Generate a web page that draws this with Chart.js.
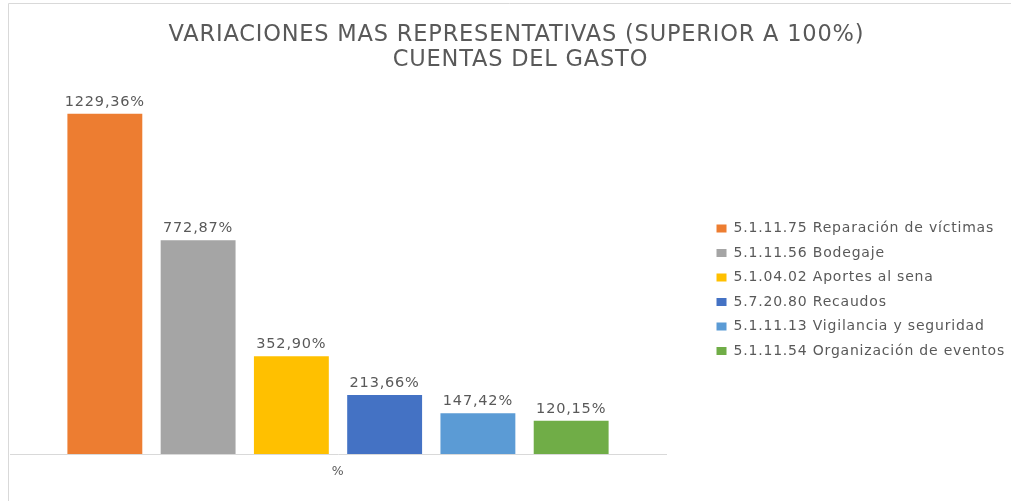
<!DOCTYPE html>
<html lang="es">
<head>
    <meta charset="UTF-8">
    <script src="https://cdn.jsdelivr.net/npm/chart.js"></script>
    <title>Variaciones</title>
    <style>
        body { margin: 0; background: #fff; }
        #chart { width: 1011px; height: 501px; }
    </style>
</head>
<body>
    <div id="chart">
        <canvas id="gastoChart" width="1011" height="501"></canvas>
    </div>
    <script>
        // datos
        const categorias = ['%']
        const cuentas = [
            '5.1.11.75 Reparación de víctimas',
            '5.1.11.56 Bodegaje',
            '5.1.04.02 Aportes al sena',
            '5.7.20.80 Recaudos',
            '5.1.11.13 Vigilancia y seguridad',
            '5.1.11.54 Organización de eventos'
        ]
        const variaciones = [1229.36, 772.87, 352.90, 213.66, 147.42, 120.15]
        const colores = ['#ED7D31', '#A5A5A5', '#FFC000', '#4472C4', '#5B9BD5', '#70AD47']

        Chart.defaults.font.family = "'DejaVu Sans', sans-serif"
        Chart.defaults.color = '#595959'

        // el texto del original es algo mas ancho
        const espaciado = {
            id: 'espaciado',
            beforeLayout(chart) { chart.ctx.letterSpacing = '0.8px' },
            beforeDraw(chart) { chart.ctx.letterSpacing = '0.8px' }
        }

        // etiquetas encima de las barras
        const etiquetas = {
            id: 'etiquetas',
            afterDatasetsDraw(chart) {
                const ctx = chart.ctx
                ctx.save()
                ctx.font = "14.5px 'DejaVu Sans', sans-serif"
                ctx.fillStyle = '#595959'
                ctx.textAlign = 'center'
                ctx.textBaseline = 'alphabetic'
                chart.data.datasets.forEach((ds, i) => {
                    chart.getDatasetMeta(i).data.forEach((bar, j) => {
                        const txt = ds.data[j].toFixed(2).replace('.', ',') + '%'
                        ctx.fillText(txt, bar.x, bar.y - 8)
                    })
                })
                ctx.restore()
            }
        }

        // marco del grafico (izquierda y arriba)
        const marco = {
            id: 'marco',
            beforeDraw(chart) {
                const ctx = chart.ctx
                ctx.save()
                ctx.strokeStyle = '#d9d9d9'
                ctx.lineWidth = 1
                ctx.beginPath()
                ctx.moveTo(8.5, 501)
                ctx.lineTo(8.5, 3.5)
                ctx.lineTo(1011, 3.5)
                ctx.stroke()
                ctx.restore()
            }
        }

        const ctx = document.getElementById('gastoChart').getContext('2d')
        const gastoChart = new Chart(ctx, {
            type: 'bar',
            data: {
                labels: categorias,
                datasets: cuentas.map((c, i) => ({
                    label: c,
                    data: [variaciones[i]],
                    backgroundColor: colores[i],
                    borderWidth: 0,
                    categoryPercentage: 0.853,
                    barPercentage: 0.803
                }))
            },
            options: {
                responsive: false,
                animation: false,
                layout: { padding: { left: 10, right: -4, top: 22, bottom: 12 } },
                scales: {
                    x: {
                        grid: { display: false, drawTicks: false },
                        border: { color: '#d9d9d9', width: 1 },
                        ticks: { padding: 10, font: { size: 12.5 }, color: '#595959' }
                    },
                    y: {
                        display: false,
                        min: 0,
                        max: 1400
                    },
                    // eje oculto solo para dejar hueco antes de la leyenda
                    y2: {
                        position: 'right',
                        display: false,
                        afterFit(scale) { scale.width = 40 }
                    }
                },
                plugins: {
                    title: {
                        display: true,
                        text: [' VARIACIONES MAS REPRESENTATIVAS (SUPERIOR A 100%)', '  CUENTAS DEL GASTO'],
                        color: '#595959',
                        font: { size: 22.5, weight: 'normal', lineHeight: 1.11 },
                        padding: { top: 1, bottom: -6.3 }
                    },
                    legend: {
                        position: 'right',
                        fullSize: false,
                        title: { display: true, text: ' ', font: { size: 10 }, padding: { top: 0, bottom: 47 } },
                        labels: {
                            boxWidth: 10,
                            boxHeight: 8,
                            padding: 10.5,
                            color: '#595959',
                            font: { size: 14 }
                        }
                    },
                    tooltip: { enabled: false }
                }
            },
            plugins: [espaciado, marco, etiquetas]
        })
    </script>
</body>
</html>
